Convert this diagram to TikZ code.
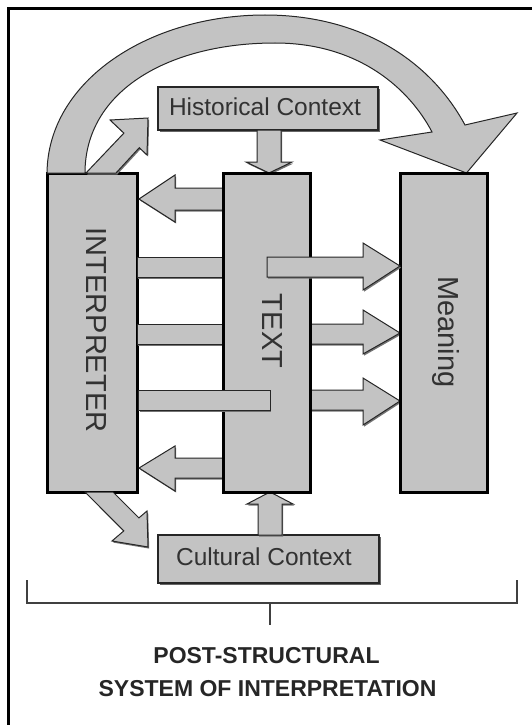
\documentclass[tikz,border=0pt]{standalone}
\usepackage{fontspec}
\setmainfont{Liberation Sans}
\usetikzlibrary{calc}
\definecolor{boxgray}{RGB}{195,195,195}
\definecolor{labelgray}{RGB}{50,50,50}
\begin{document}
\begin{tikzpicture}[x=1pt,y=-1pt,
  mainbox/.style={draw=black, line width=3pt, fill=boxgray, outer sep=0pt, inner sep=0pt},
  ctxbox/.style={draw=black!85, line width=1.6pt, fill=boxgray, outer sep=0pt, inner sep=0pt,
    preaction={fill=black!60, transform canvas={shift={(2pt,-2pt)}}}},
  blk/.style={fill=boxgray, draw=black!85, line width=1pt, line join=miter,
    preaction={fill=black!55, transform canvas={shift={(1.2pt,-1.6pt)}}}},
  arcblk/.style={fill=boxgray, draw=black!85, line width=1pt, line join=miter},
  boxlbl/.style={font=\fontsize{24.5}{24.5}\selectfont, text=labelgray, inner sep=0pt},
  biglbl/.style={font=\fontsize{29}{29}\selectfont, text=labelgray, inner sep=0pt, rotate=-90},
  titlelbl/.style={font=\fontsize{23}{23}\selectfont\bfseries, text=black!85, inner sep=0pt},
  bracketline/.style={draw=black!75, line width=2.8pt},
  ticklinestyle/.style={draw=black!75, line width=1.6pt},
]
\useasboundingbox (0,0) rectangle (532,725);
% frame
\draw[line width=2.5pt] (8.5,725) -- (8.5,8.5) -- (532,8.5);

% context boxes
\path (268,108.5) node[ctxbox, minimum width=220pt, minimum height=43pt] (hist) {};
\path (268.5,559) node[ctxbox, minimum width=221pt, minimum height=48pt] (cult) {};
\node[boxlbl, anchor=base] (histlbl) at (265,115) {Historical Context};
\node[boxlbl, anchor=base] (cultlbl) at (264,565) {Cultural Context};

% interpreter box
\path (92,332.5) node[mainbox, minimum width=90pt, minimum height=319pt] (interp) {};

% big curved arrow: interpreter -> meaning
\draw[arcblk] (interp.north west)
  .. controls (48,80) and (150,15) .. (265,15)
  .. controls (360,15) and (430,60) .. (465,125)
  -- (517,113) -- (466.5,173) -- (380,140) -- (432,132)
  .. controls (410,90) and (360,43) .. (275,43)
  .. controls (170,43) and (85,90) .. ($(interp.north west)+(38,0)$) -- cycle;

% small diagonal arrow out of interpreter top
\draw[blk] (86,173) -- (123.9,133.1) -- (110,120) -- (148,118) -- (147,155) -- (139.3,147.7) -- (116,173) -- cycle;
% small diagonal arrow out of interpreter bottom
\draw[blk] (85,492) -- (123.8,530.9) -- (112,541) -- (148,547) -- (147,511) -- (138.9,517.9) -- (113,492) -- cycle;

% historical context -> text
\draw[blk] (257,0 |- hist.south) -- (257,162) -- (246,162) -- (269,173) -- (292,162) -- (281,162) -- (281,0 |- hist.south) -- cycle;
% cultural context -> text
\draw[blk] (258,0 |- cult.north) -- (258,504) -- (247,504) -- (270,492) -- (293,504) -- (282,504) -- (282,0 |- cult.north) -- cycle;

% text -> interpreter arrows
\draw[blk] (223,188) -- (175,188) -- (175,175) -- (139,199) -- (175,222) -- (175,210) -- (223,210) -- cycle;
\draw[blk] (223,458) -- (175,458) -- (175,446) -- (139,468) -- (175,491) -- (175,478) -- (223,478) -- cycle;
% bars between interpreter and text
\draw[blk] (137,257) rectangle (223,277);
\draw[blk] (137,324) rectangle (223,344);

% text -> meaning arrows (2 and 3)
\draw[blk] (310,324) -- (363,324) -- (363,310) -- (400,333) -- (363,354) -- (363,344) -- (310,344) -- cycle;
\draw[blk] (310,390) -- (363,390) -- (363,378) -- (400,401) -- (363,425) -- (363,410) -- (310,410) -- cycle;

% text and meaning boxes
\path (266.5,332.5) node[mainbox, minimum width=87pt, minimum height=319pt] (text) {};
\path (443.5,332.5) node[mainbox, minimum width=87pt, minimum height=319pt] (meaning) {};

% arrows lying over the text box
\draw[blk] (267,257) -- (363,257) -- (363,243) -- (meaning.west |- 0,266) -- (363,290) -- (363,277) -- (267,277) -- cycle;
\draw[blk] (138.5,390) rectangle (270,410);

% rotated labels
\node[biglbl] (interplbl) at (96.5,330) {INTERPRETER};
\node[biglbl] (textlbl) at (272.5,331) {TEXT};
\node[biglbl] (meanlbl) at (446,332) {Meaning};

% bracket
\draw[bracketline] (27,580) -- (27,603) -- (517,603) -- (517,580);
\coordinate (brkmid) at (270,603);
\coordinate (brktick) at (270,625);
\draw[ticklinestyle] (brkmid) -- (brktick);

% title
\node[titlelbl] (title1) at (266.5,655.5) {POST-STRUCTURAL};
\node[titlelbl] (title2) at (267.5,688.5) {SYSTEM OF INTERPRETATION};
\end{tikzpicture}
\end{document}
